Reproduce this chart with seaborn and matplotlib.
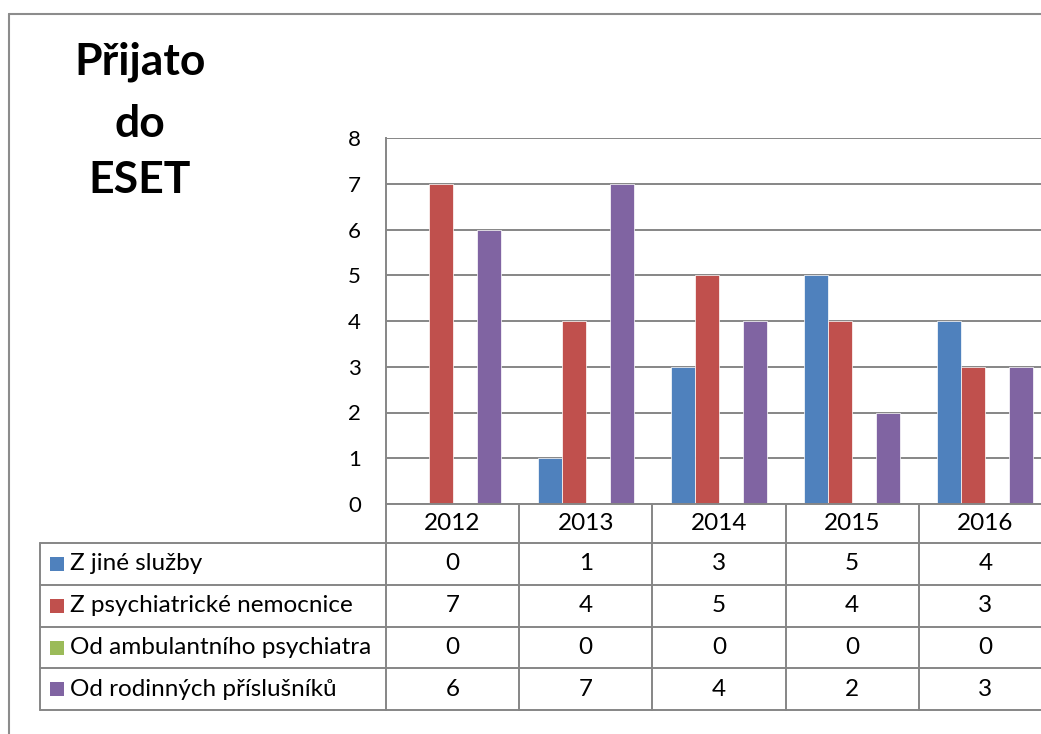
import matplotlib
matplotlib.use("Agg")
import matplotlib.pyplot as plt
import matplotlib.transforms as mtransforms
from matplotlib.lines import Line2D
from matplotlib.patches import Rectangle
import pandas as pd
import seaborn as sns

# data
years = ["2012", "2013", "2014", "2015", "2016"]
series = ["Z jiné služby", "Z psychiatrické nemocnice",
          "Od ambulantního psychiatra", "Od rodinných příslušníků"]
z_jine_sluzby = [0, 1, 3, 5, 4]
z_psych_nemocnice = [7, 4, 5, 4, 3]
od_ambulantniho = [0, 0, 0, 0, 0]
od_rodinnych = [6, 7, 4, 2, 3]
colors = ["#4F81BD", "#C0504D", "#9BBB59", "#8064A2"]

values = [z_jine_sluzby, z_psych_nemocnice, od_ambulantniho, od_rodinnych]
df = pd.DataFrame({
    "Rok": years * len(series),
    "Zdroj": [s for s in series for _ in years],
    "Počet": [v for row in values for v in row],
})

sns.set_theme(style="white")
plt.rcParams["font.family"] = ["Lato", "DejaVu Sans"]
plt.rcParams["text.color"] = "black"

W, H = 1041, 734
fig = plt.figure(figsize=(W / 100, H / 100), dpi=100)


def fx(p):
    return p / W


def fy(p):
    return 1 - p / H


grid_col = "#868686"

# plot area (runs past the right edge, as in the cropped original)
ax = fig.add_axes([fx(386), fy(504), fx(1052) - fx(386), fy(138) - fy(504)])
sns.barplot(data=df, x="Rok", y="Počet", hue="Zdroj", palette=colors,
            saturation=1, width=0.72, errorbar=None, legend=False, ax=ax,
            edgecolor="white", linewidth=0.5)
ax.set_ylim(0, 8)
ax.set_xlim(-0.5, len(years) - 0.5)
ax.set_yticks(range(9))
ax.yaxis.grid(True, color=grid_col, lw=1.4)
ax.set_axisbelow(True)
ax.set_xticks([])
ax.set_xlabel("")
ax.set_ylabel("")
ax.tick_params(axis="y", length=0, pad=18, labelsize=16, labelcolor="black")
for s in ["top", "right", "bottom"]:
    ax.spines[s].set_visible(False)
ax.spines["left"].set_color(grid_col)
ax.spines["left"].set_linewidth(1.4)

# title
fig.text(fx(140), fy(75), "Přijato", ha="center", va="baseline",
         fontsize=32, fontweight="bold")
fig.text(fx(140), fy(137), "do", ha="center", va="baseline",
         fontsize=32, fontweight="bold")
fig.text(fx(140), fy(193), "ESET", ha="center", va="baseline",
         fontsize=32, fontweight="bold")

# data table under the chart
trans = mtransforms.blended_transform_factory(ax.transData, fig.transFigure)
lw = 1.4
fs = 17.5
row_lines = [543, 585, 627, 668, 710]
fig.add_artist(Line2D([fx(386), fx(1052)], [fy(504), fy(504)], color=grid_col, lw=lw))
for yl in row_lines:
    fig.add_artist(Line2D([fx(40), fx(1052)], [fy(yl), fy(yl)], color=grid_col, lw=lw))
fig.add_artist(Line2D([fx(40), fx(40)], [fy(543), fy(710)], color=grid_col, lw=lw))
fig.add_artist(Line2D([fx(386), fx(386)], [fy(504), fy(710)], color=grid_col, lw=lw))
for i in range(len(years)):
    fig.add_artist(Line2D([i + 0.5, i + 0.5], [fy(504), fy(710)],
                          color=grid_col, lw=lw, transform=trans))
    fig.text(i, fy(523.5), years[i], transform=trans, ha="center",
             va="center", fontsize=fs)

for r, (name, vals, c) in enumerate(zip(series, values, colors)):
    yc = (row_lines[r] + row_lines[r + 1]) / 2
    fig.add_artist(Rectangle((fx(50), fy(yc + 7)), fx(14), fy(yc - 7) - fy(yc + 7),
                             color=c, lw=0))
    fig.text(fx(70), fy(yc), name, ha="left", va="center", fontsize=fs)
    for i, v in enumerate(vals):
        fig.text(i, fy(yc), str(v), transform=trans, ha="center",
                 va="center", fontsize=fs)

# outer chart frame
fig.add_artist(Line2D([fx(9), 1], [fy(14), fy(14)], color="#8c8c8c", lw=1.5))
fig.add_artist(Line2D([fx(9), fx(9)], [fy(14), 0], color="#8c8c8c", lw=1.5))

fig.savefig("out.png", dpi=100)
